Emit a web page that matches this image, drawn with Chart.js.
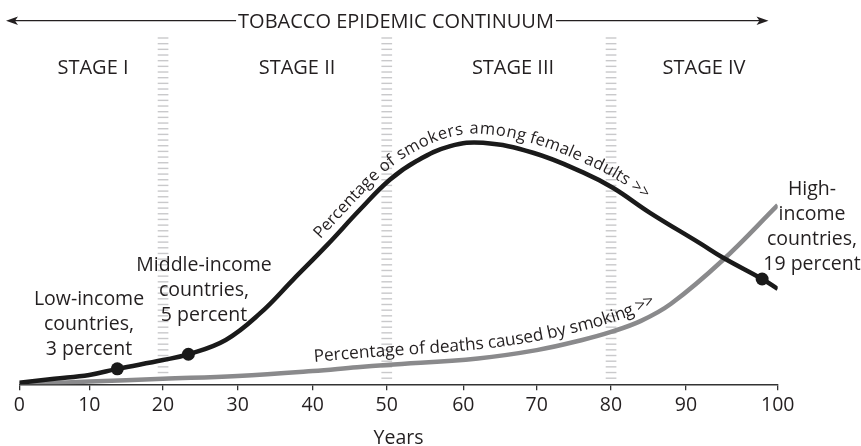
<!DOCTYPE html>
<html>
<head>
<meta charset="utf-8">
<script src="https://cdn.jsdelivr.net/npm/chart.js@4/dist/chart.umd.min.js"></script>
<style>
  html, body { margin: 0; padding: 0; background: #fff; }
  #wrap { width: 861px; height: 446px; }
</style>
</head>
<body>
<div id="wrap"><canvas id="chart" width="861" height="446"></canvas></div>
<script>
// --- data (x = years, y = percent) ---
const femaleYears  = [0, 5, 10, 13.8, 20, 23.4, 28.4, 33, 37.4, 41.9, 46.4, 50.4, 53.9, 58.3, 62.7, 69.5, 76.3, 80.3, 85.2, 91.5, 94.1, 98.3, 100];
const femaleValues = [0.3, 1.0, 1.7, 2.8, 4.4, 5.45, 8.05, 12.9, 19.0, 25.2, 31.7, 37.1, 40.5, 43.2, 43.8, 42.0, 38.4, 35.6, 31.1, 25.6, 22.9, 19.1, 17.3];

const deathYears  = [0, 10, 20, 30, 40, 46, 50, 62, 70, 76, 80, 84, 88, 94, 100];
const deathValues = [0, 0.5, 1.0, 1.5, 2.4, 3.1, 3.5, 4.7, 6.2, 8.0, 9.5, 11.5, 14.6, 22.5, 32.5];

const dotYears  = [13.8, 23.4, 98.3];
const dotValues = [2.8, 5.45, 19.1];

const stageBreaks = [20, 50, 80];
const stageLabels = ['STAGE I', 'STAGE II', 'STAGE III', 'STAGE IV'];
const xTicks = [0, 10, 20, 30, 40, 50, 60, 70, 80, 90, 100];

const femaleLabel = 'Percentage of smokers among female adults >>';
const deathLabel = 'Percentage of deaths caused by smoking >>';

// the drawn axis is not evenly spaced: pixel of each 10-year tick in the picture
const xTickPx = [19.3, 89.3, 163, 237.7, 312.7, 386.7, 463.3, 536.7, 611, 686, 777.7];

const FONT = '"Open Sans", "DejaVu Sans", sans-serif';
const INK = '#231f20';

// --- escala piecewise para seguir o eixo do desenho ---
class PiecewiseScale extends Chart.LinearScale {
    getPixelForValue(value) {
        const i = Math.min(9, Math.max(0, Math.floor(value / 10)));
        const px = xTickPx[i] + (value - i * 10) / 10 * (xTickPx[i + 1] - xTickPx[i]);
        const frac = (px - xTickPx[0]) / (xTickPx[10] - xTickPx[0]);
        return this.getPixelForDecimal(frac);
    }
    getValueForPixel(pixel) {
        const px = xTickPx[0] + this.getDecimalForPixel(pixel) * (xTickPx[10] - xTickPx[0]);
        let i = 0;
        while (i < 9 && px > xTickPx[i + 1]) i++;
        return i * 10 + (px - xTickPx[i]) / (xTickPx[i + 1] - xTickPx[i]) * 10;
    }
}
PiecewiseScale.id = 'piecewise';
PiecewiseScale.defaults = Chart.LinearScale.defaults;
Chart.register(PiecewiseScale);

function toPoints(xs, ys) {
    return xs.map((x, i) => ({ x: x, y: ys[i] }));
}

// sample the drawn bezier path of a line dataset
function samplePath(points) {
    const out = [];
    for (let i = 0; i < points.length - 1; i++) {
        const p0 = points[i], p1 = points[i + 1];
        const c1x = p0.cp2x ?? p0.x, c1y = p0.cp2y ?? p0.y;
        const c2x = p1.cp1x ?? p1.x, c2y = p1.cp1y ?? p1.y;
        for (let s = 0; s < 24; s++) {
            const t = s / 24, u = 1 - t;
            out.push({
                x: u*u*u*p0.x + 3*u*u*t*c1x + 3*u*t*t*c2x + t*t*t*p1.x,
                y: u*u*u*p0.y + 3*u*u*t*c1y + 3*u*t*t*c2y + t*t*t*p1.y
            });
        }
    }
    const last = points[points.length - 1];
    out.push({ x: last.x, y: last.y });
    let len = 0;
    out.forEach((p, i) => {
        if (i > 0) len += Math.hypot(p.x - out[i-1].x, p.y - out[i-1].y);
        p.s = len;
    });
    return out;
}

function pointAt(path, s) {
    for (let i = 1; i < path.length; i++) {
        if (path[i].s >= s) {
            const a = path[i-1], b = path[i];
            const t = (s - a.s) / ((b.s - a.s) || 1);
            return { x: a.x + (b.x - a.x) * t, y: a.y + (b.y - a.y) * t, ang: Math.atan2(b.y - a.y, b.x - a.x) };
        }
    }
    const a = path[path.length - 2], b = path[path.length - 1];
    return { x: b.x, y: b.y, ang: Math.atan2(b.y - a.y, b.x - a.x) };
}

function textOnPath(ctx, text, path, startX, offset) {
    let s = 0;
    for (const p of path) { if (p.x >= startX) { s = p.s; break; } }
    ctx.textAlign = 'center';
    ctx.textBaseline = 'alphabetic';
    for (const ch of text) {
        const w = ctx.measureText(ch).width;
        const p = pointAt(path, s + w / 2);
        ctx.save();
        ctx.translate(p.x, p.y);
        ctx.rotate(p.ang);
        ctx.fillText(ch, 0, -offset);
        ctx.restore();
        s += w;
    }
}

const decorPlugin = {
    id: 'decor',
    beforeDatasetsDraw(chart) {
        const ctx = chart.ctx;
        const x = chart.scales.x;
        ctx.save();
        ctx.fillStyle = '#c9c9cb';
        stageBreaks.forEach(v => {
            const px = x.getPixelForValue(v);
            for (let y = 37.3; y < 381; y += 5.67) {
                ctx.fillRect(px - 5.3, y, 10.7, 1.4);
            }
        });
        ctx.restore();
    },
    afterDatasetsDraw(chart) {
        const ctx = chart.ctx;
        ctx.save();
        ctx.fillStyle = INK;
        ctx.font = '16.5px ' + FONT;
        const femalePath = samplePath(chart.getDatasetMeta(1).data);
        textOnPath(ctx, femaleLabel, femalePath, 326, 9);
        ctx.font = '17.3px ' + FONT;
        const deathPath = samplePath(chart.getDatasetMeta(2).data);
        textOnPath(ctx, deathLabel, deathPath, 313, 9);
        ctx.restore();
    },
    afterDraw(chart) {
        const ctx = chart.ctx;
        ctx.save();
        ctx.fillStyle = INK;
        ctx.strokeStyle = INK;

        // title with arrows both ways
        ctx.font = '20px ' + FONT;
        ctx.textAlign = 'center';
        ctx.textBaseline = 'alphabetic';
        const title = 'TOBACCO EPIDEMIC CONTINUUM';
        const cx = 396;
        const tw = ctx.measureText(title).width;
        ctx.fillText(title, cx, 28.3);
        ctx.lineWidth = 1.3;
        ctx.beginPath();
        ctx.moveTo(10, 20.7); ctx.lineTo(cx - tw / 2 - 2, 20.7);
        ctx.moveTo(cx + tw / 2 + 2, 20.7); ctx.lineTo(764, 20.7);
        ctx.stroke();
        ctx.beginPath();
        ctx.moveTo(6, 20.7); ctx.lineTo(18, 16.5); ctx.lineTo(15, 20.7); ctx.lineTo(18, 24.9); ctx.closePath();
        ctx.moveTo(768.5, 20.7); ctx.lineTo(756.5, 16.5); ctx.lineTo(759.5, 20.7); ctx.lineTo(756.5, 24.9); ctx.closePath();
        ctx.fill();

        // stage labels
        const stageX = [93, 297, 513, 704];
        stageLabels.forEach((t, i) => {
            ctx.fillText(t, stageX[i], 74);
        });

        // annotations
        ctx.font = '19.5px ' + FONT;
        const notes = [
            { x: 89, y: 305, lines: ['Low-income', 'countries,', '3 percent'] },
            { x: 204, y: 271, lines: ['Middle-income', 'countries,', '5 percent'] },
            { x: 812, y: 194.5, lines: ['High-', 'income', 'countries,', '19 percent'] }
        ];
        notes.forEach(n => {
            n.lines.forEach((l, i) => ctx.fillText(l, n.x, n.y + i * 25.2));
        });
        ctx.restore();
    }
};

new Chart(document.getElementById('chart'), {
    type: 'line',
    data: {
        datasets: [{
            type: 'scatter',
            data: toPoints(dotYears, dotValues),
            pointRadius: 6.5,
            pointBackgroundColor: '#1a1a1a',
            pointBorderWidth: 0
        }, {
            data: toPoints(femaleYears, femaleValues),
            borderColor: '#1a1a1a',
            borderWidth: 4.5,
            pointRadius: 0,
            tension: 0.4,
            fill: false
        }, {
            data: toPoints(deathYears, deathValues),
            borderColor: '#8a8a8c',
            borderWidth: 4.5,
            pointRadius: 0,
            tension: 0.4,
            fill: false
        }]
    },
    options: {
        responsive: false,
        animation: false,
        events: [],
        layout: { padding: { top: 37, left: 19.3, right: 83.3, bottom: 0 } },
        plugins: { legend: { display: false }, tooltip: { enabled: false } },
        scales: {
            x: {
                type: 'piecewise',
                min: 0,
                max: 100,
                afterBuildTicks: (scale) => { scale.ticks = xTicks.map(v => ({ value: v })); },
                afterFit: (scale) => { scale.height = 61.7; },
                grid: { drawOnChartArea: false, drawTicks: true, tickLength: 6, color: '#333', lineWidth: 1.3 },
                border: { display: true, color: '#333', width: 1.5 },
                ticks: { color: INK, font: { family: FONT, size: 19.5 }, padding: 3, maxRotation: 0, autoSkip: false },
                title: { display: true, text: 'Years', color: INK, font: { family: FONT, size: 19.5 }, padding: { top: 0, bottom: -4 } }
            },
            y: {
                display: false,
                min: 0,
                max: 63
            }
        }
    },
    plugins: [decorPlugin]
});
</script>
</body>
</html>
